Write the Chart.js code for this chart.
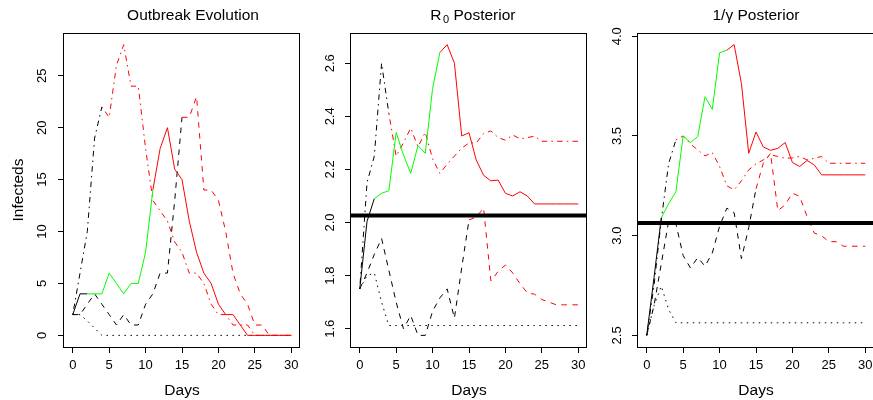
<!DOCTYPE html>
<html><head><meta charset="utf-8">
<script src="https://cdn.jsdelivr.net/npm/chart.js@4/dist/chart.umd.min.js"></script>
<style>
html,body{margin:0;padding:0;background:#fff;overflow:hidden;width:873px;height:400px;position:relative;}
canvas{position:absolute;top:0;}
</style></head><body>
<canvas id="c1" width="320" height="400" style="left:0px"></canvas>
<canvas id="c2" width="320" height="400" style="left:287px"></canvas>
<canvas id="c3" width="320" height="400" style="left:574px"></canvas>
<script>
// ---------- data ----------
const days = [0,1,2,3,4,5,6,7,8,9,10,11,12,13,14,15,16,17,18,19,20,21,22,23,24,25,26,27,28,29,30];
const xTicks = [0,5,10,15,20,25,30];

// Panel 1: Outbreak Evolution (Infecteds)
const evoSolid   = [2,4,4,4,4,6,5,4,5,5,8,14,18,20,16,15,11,8,6,5,3,2,2,1,0,0,0,0,0,0,0];
const evoDashed  = [2,2,3,4,3,2,1,2,1,1,3,4,6,6,13,21,21,23,14,14,13,10,6,4,3,1,1,0,0,0,0];
const evoDotDash = [2,6,10,19,22,21,26,28,24,24,18,13,12,11,9,8,6,6,5,3,2,2,1,1,1,0,0,0,0,0,0];
const evoDotted  = [2,2,1.4,0.7,0,0,0,0,0,0,0,0,0,0,0,0,0,0,0,0,0,0,0,0,0,0,0,0,0,0,0];
const evoYTicks  = [0,5,10,15,20,25];
const evoYLabels = ["0","5","10","15","20","25"];

// Panel 2: R0 Posterior
const r0Solid   = [1.75,2.004,2.09,2.11,2.12,2.339,2.255,2.185,2.29,2.26,2.505,2.64,2.67,2.60,2.326,2.338,2.235,2.178,2.157,2.16,2.11,2.10,2.116,2.10,2.07,2.07,2.07,2.07,2.07,2.07,2.07];
const r0DotDash = [1.75,2.15,2.25,2.60,2.41,2.25,2.30,2.356,2.285,2.34,2.24,2.185,2.22,2.25,2.28,2.30,2.30,2.335,2.345,2.32,2.31,2.33,2.315,2.32,2.325,2.306,2.306,2.306,2.306,2.306,2.306];
const r0Dashed  = [1.75,1.81,1.88,1.94,1.82,1.70,1.60,1.65,1.575,1.575,1.666,1.716,1.75,1.64,1.83,2.01,2.02,2.055,1.78,1.816,1.84,1.81,1.77,1.735,1.73,1.71,1.70,1.69,1.69,1.69,1.69];
const r0Dotted  = [1.75,1.80,1.81,1.70,1.612,1.612,1.612,1.612,1.612,1.612,1.612,1.612,1.612,1.612,1.612,1.612,1.612,1.612,1.612,1.612,1.612,1.612,1.612,1.612,1.612,1.612,1.612,1.612,1.612,1.612,1.612];
const r0True    = 2.026;
const r0YTicks  = [1.6,1.8,2.0,2.2,2.4,2.6];
const r0YLabels = ["1.6","1.8","2.0","2.2","2.4","2.6"];

// Panel 3: 1/gamma Posterior
const gSolid   = [2.5,2.79,3.09,3.16,3.22,3.50,3.467,3.497,3.697,3.633,3.917,3.93,3.958,3.763,3.413,3.52,3.445,3.428,3.438,3.467,3.367,3.347,3.377,3.355,3.305,3.305,3.305,3.305,3.305,3.305,3.305];
const gDotDash = [2.5,2.75,3.08,3.36,3.48,3.50,3.46,3.43,3.40,3.417,3.347,3.25,3.23,3.275,3.33,3.36,3.38,3.405,3.397,3.388,3.39,3.397,3.38,3.388,3.397,3.363,3.363,3.363,3.363,3.363,3.363];
const gDashed  = [2.5,2.65,2.86,3.07,3.06,2.90,2.838,2.89,2.847,2.913,3.047,3.138,3.115,2.885,3.04,3.235,3.363,3.413,3.125,3.155,3.213,3.197,3.097,3.013,3.0,2.97,2.97,2.947,2.947,2.947,2.947];
const gDotted  = [2.5,2.65,2.747,2.63,2.563,2.563,2.563,2.563,2.563,2.563,2.563,2.563,2.563,2.563,2.563,2.563,2.563,2.563,2.563,2.563,2.563,2.563,2.563,2.563,2.563,2.563,2.563,2.563,2.563,2.563,2.563];
const gTrue    = 3.063;
const gYTicks  = [2.5,3.0,3.5,4.0];
const gYLabels = ["2.5","3.0","3.5","4.0"];

// colour phases (day index where colour switches)
const solidBreaks = [2, 11],  solidColors = ['#000000','#00ff00','#ff0000'];
const dashedBreaks = [15],    dashedColors = ['#000000','#ff0000'];
const dotDashBreaks = [4],    dotDashColors = ['#000000','#ff0000'];

// ---------- styling ----------
const FONT = '"Liberation Sans", Arial, Helvetica, sans-serif';
Chart.defaults.font.family = FONT;
Chart.defaults.color = '#000';
const DASHED = [5.5,5.5], DOTDASH = [1.5,4.2,5.5,4.2], DOTTED = [1.5,4.5];
const X_MIN = -1.2, X_MAX = 31.2;
const Y_AXIS_W = 64, X_AXIS_H = 53, TOP = 33, RIGHT_PAD = 319.5 - 64 - 236.5 + 1;

function pts(arr){ return arr.map((v,i)=>({x: days[i], y: v})); }
function phaseColor(breaks, colors){
  return ctx => { let k = 0; for (const b of breaks) if (ctx.p0DataIndex >= b) k++; return colors[k]; };
}
function lineDs(arr, dash, breaks, colors){
  return { data: pts(arr), borderWidth: 1, borderDash: dash, pointRadius: 0, tension: 0, fill: false,
           borderColor: colors ? colors[0] : '#000',
           segment: colors ? { borderColor: phaseColor(breaks, colors) } : undefined };
}

const boxPlugin = {
  id: 'rbox',
  afterDatasetsDraw(chart){
    const {ctx, chartArea: a} = chart;
    ctx.save(); ctx.strokeStyle = '#000'; ctx.lineWidth = 1; ctx.setLineDash([]);
    ctx.strokeRect(Math.round(a.left) - 0.5, Math.round(a.top) + 0.5, Math.round(a.right - a.left), Math.round(a.bottom - a.top));
    ctx.restore();
  }
};
const titlePlugin = {
  id: 'rtitle',
  afterDraw(chart, args, opts){
    if (!opts.parts) return;
    const ctx = chart.ctx; ctx.save(); ctx.fillStyle = '#000'; ctx.textBaseline = 'alphabetic'; ctx.textAlign = 'left';
    let total = 0;
    for (const p of opts.parts){ ctx.font = p.size + 'px ' + FONT; total += ctx.measureText(p.text).width + (p.gap || 0); }
    let x = opts.cx - total / 2;
    for (const p of opts.parts){
      ctx.font = p.size + 'px ' + FONT; x += (p.gap || 0);
      ctx.fillText(p.text, x, opts.baseline + (p.dy || 0));
      x += ctx.measureText(p.text).width;
    }
    ctx.restore();
  }
};

function makePanel(id, series, trueVal, yTicks, yLabels, yPad, yTitle, titleOpts){
  const all = [].concat(...series);
  const lo = Math.min(...all), hi = Math.max(...all), ext = (hi - lo) * 0.04;
  const datasets = [];
  if (trueVal !== null) datasets.push({ data: [{x: X_MIN, y: trueVal}, {x: X_MAX, y: trueVal}], borderColor: '#000', borderWidth: 4, pointRadius: 0, fill: false });
  datasets.push(lineDs(series[0], [], solidBreaks, solidColors));
  datasets.push(lineDs(series[1], DOTDASH, dotDashBreaks, dotDashColors));
  datasets.push(lineDs(series[2], DASHED, dashedBreaks, dashedColors));
  datasets.push(lineDs(series[3], DOTTED, null, null));
  return new Chart(document.getElementById(id), {
    type: 'line',
    data: { datasets },
    plugins: [boxPlugin, titlePlugin],
    options: {
      responsive: false, animation: false, events: [],
      layout: { padding: { top: TOP, right: RIGHT_PAD, bottom: 0, left: 0 } },
      plugins: { legend: { display: false }, tooltip: { enabled: false }, rtitle: titleOpts },
      scales: {
        x: {
          type: 'linear', min: X_MIN, max: X_MAX,
          afterBuildTicks: s => { s.ticks = xTicks.map(v => ({ value: v })); },
          afterFit: s => { s.height = X_AXIS_H; },
          grid: { drawOnChartArea: false, drawTicks: true, tickLength: 6, color: '#000' },
          border: { display: false },
          ticks: { font: { size: 13 }, padding: 5, maxRotation: 0, autoSkip: false, color: '#000' },
          title: { display: true, text: 'Days', font: { size: 15.5 }, padding: { top: 0, bottom: 0 }, color: '#000' }
        },
        y: {
          type: 'linear', min: lo - ext, max: hi + ext,
          afterBuildTicks: s => { s.ticks = yTicks.map(v => ({ value: v })); },
          afterFit: s => { s.width = Y_AXIS_W; },
          grid: { drawOnChartArea: false, drawTicks: true, tickLength: 6, color: '#000' },
          border: { display: false },
          ticks: { font: { size: 13 }, padding: yPad, minRotation: 90, maxRotation: 90, crossAlign: 'center', autoSkip: false, color: '#000',
                   callback: (v, i) => yLabels[i] },
          title: { display: !!yTitle, text: yTitle || '', font: { size: 15.5 }, padding: { top: 9.6, bottom: 0 }, color: '#000' }
        }
      }
    }
  });
}

makePanel('c1', [evoSolid, evoDotDash, evoDashed, evoDotted], null, evoYTicks, evoYLabels, 8.5, 'Infecteds',
  { cx: 193, baseline: 19.5, parts: [{ text: 'Outbreak Evolution', size: 15.5 }] });
makePanel('c2', [r0Solid, r0DotDash, r0Dashed, r0Dotted], r0True, r0YTicks, r0YLabels, 6, null,
  { cx: 472.9 - 287, baseline: 19.5, parts: [{ text: 'R', size: 15.5 }, { text: '0', size: 11, dy: 3, gap: 1.5 }, { text: ' Posterior', size: 15.5 }] });
makePanel('c3', [gSolid, gDotDash, gDashed, gDotted], gTrue, gYTicks, gYLabels, 6, null,
  { cx: 756 - 574, baseline: 19.5, parts: [{ text: '1/\u03B3 Posterior', size: 15.5 }] });
</script>
</body></html>
